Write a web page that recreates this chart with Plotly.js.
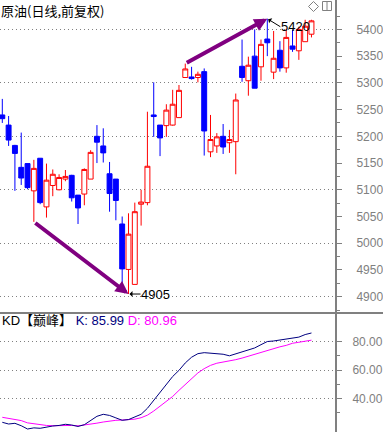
<!DOCTYPE html>
<html>
<head>
<meta charset="utf-8">
<script src="https://cdn.plot.ly/plotly-3.0.1.min.js"></script>
<style>
html,body{margin:0;padding:0;background:#fff;}
#chart{width:383px;height:432px;}
</style>
</head>
<body>
<div id="chart"></div>
<script>
// ---- data ----
const idx = [1,2,3,4,5,6,7,8,9,10,11,12,13,14,15,16,17,18,19,20,21,22,23,24,25,26,27,28,29,30,31,32,33,34,35,36,37,38,39,40,41,42,43,44,45,46,47,48,49,50];
const openP  = [5240,5221,5183,5142,5149,5098,5159,5068,5108,5100,5120,5127,5090,5092,5120,5200,5182,5130,5120,5036,4951,4923,5073,5076,5240,5221,5220,5221,5235,5310,5311,5310,5321,5171,5182,5200,5188,5190,5331,5304,5350,5330,5382,5320,5361,5328,5369,5360,5377,5391];
const highP  = [5270,5238,5184,5207,5149,5156,5159,5149,5138,5129,5137,5128,5090,5140,5174,5221,5215,5152,5120,5050,5056,5076,5100,5246,5301,5221,5260,5287,5296,5336,5330,5321,5327,5240,5206,5223,5212,5280,5381,5349,5400,5381,5420,5397,5378,5401,5399,5405,5418,5418];
const lowP   = [5225,5182,5098,5109,5101,5040,5073,5048,5088,5099,5116,5078,5036,5071,5120,5150,5151,5059,5043,4922,4905,4923,5033,5071,5199,5163,5199,5220,5235,5310,5306,5301,5164,5161,5169,5167,5169,5129,5302,5276,5290,5304,5350,5307,5321,5319,5358,5343,5377,5385];
const closeP = [5233,5193,5168,5122,5104,5140,5076,5118,5129,5123,5125,5085,5066,5138,5170,5189,5169,5093,5080,4952,5017,5059,5077,5144,5237,5197,5249,5260,5286,5326,5308,5316,5210,5194,5199,5180,5194,5268,5310,5333,5290,5372,5375,5346,5328,5385,5363,5400,5406,5416];
const kVals = [23.4,22.2,22.7,21.0,18.7,19.5,19.2,20.1,20.8,21.2,22.0,21.5,20.5,21.7,24.8,27.6,29.0,28.2,26.5,24.8,25.3,27.0,29.0,33.2,38.7,43.8,49.3,55.5,59.8,65.0,69.0,71.5,72.2,71.8,71.3,71.1,70.0,71.5,72.8,74.4,75.5,77.8,80.0,80.4,81.0,81.9,82.3,83.1,84.9,85.99];
const dVals = [26.9,26.2,25.4,24.6,23.0,22.3,21.5,21.2,21.0,21.2,21.5,21.2,20.9,21.4,22.0,22.8,23.6,24.4,24.8,25.0,25.3,25.6,26.6,28.4,31.3,34.6,37.6,41.5,45.8,50.0,54.2,58.0,61.0,63.3,64.8,65.5,66.2,67.3,68.4,69.7,71.3,72.5,73.8,75.3,76.3,77.3,78.8,79.5,80.3,80.96];
const priceTicks = [4900,4950,5000,5050,5100,5150,5200,5250,5300,5350,5400];
const priceMinor = [4875,4925,4975,5025,5075,5125,5175,5225,5275,5325,5375,5425];
const priceGrid = [4900,5000,5100,5200,5300,5400];
const kdTicks = [40,60,80];
const kdTickText = ['40.00','60.00','80.00'];
const kdMinor = [30,50,70];
const titleText = '原油(日线,前复权)';
const kdName = 'KD【巅峰】';
const kLast = '85.99', dLast = '80.96';
// arrows: [tailIndex, tailPrice, headIndex, headPrice]
const arrowDown = [6, 5040, 21, 4905];
const arrowUp = [30, 5336, 43, 5420];

// ---- layout helpers ----
const W = 383, H = 432, PW = 335;
const GRAY = '#808080';
const px = v => v / PW;           // pixel x -> paper x
const py = v => 1 - v / H;        // pixel y -> paper y
const split = py(313);
const xr = [0.635, 53.73];
const tickFont = {family: 'Liberation Sans, Arial, sans-serif', size: 12, color: GRAY};

const traces = [
  {
    type: 'candlestick', x: idx, open: openP, high: highP, low: lowP, close: closeP,
    xaxis: 'x', yaxis: 'y', hoverinfo: 'skip',
    increasing: {line: {color: '#ff0000', width: 1}, fillcolor: '#ffffff'},
    decreasing: {line: {color: '#0000ff', width: 1}, fillcolor: '#0000ff'},
    whiskerwidth: 0
  },
  {type: 'scatter', mode: 'lines', x: [], y: [], xaxis: 'x', yaxis: 'y3', hoverinfo: 'skip'},
  {type: 'scatter', mode: 'lines', x: idx, y: dVals, xaxis: 'x2', yaxis: 'y2',
   line: {color: '#ff00ff', width: 1}, hoverinfo: 'skip'},
  {type: 'scatter', mode: 'lines', x: idx, y: kVals, xaxis: 'x2', yaxis: 'y2',
   line: {color: '#000080', width: 1}, hoverinfo: 'skip'}
];

const layout = {
  width: W, height: H,
  margin: {l: 0, r: W - PW, t: 0, b: 0, pad: 0},
  paper_bgcolor: '#ffffff', plot_bgcolor: '#ffffff',
  showlegend: false,
  boxgap: 0.22, boxgroupgap: 0,
  xaxis: {domain: [0, 1], anchor: 'y', range: xr, visible: false, rangeslider: {visible: false}, fixedrange: true},
  xaxis2: {domain: [0, 1], anchor: 'y2', range: xr, visible: false, fixedrange: true},
  yaxis: {
    domain: [split, 1], anchor: 'x', side: 'right', range: [4869.5, 5455],
    showline: true, linecolor: GRAY, linewidth: 2, zeroline: false, showgrid: false,
    tickmode: 'array', tickvals: priceTicks, ticktext: priceTicks.map(String),
    ticks: 'outside', ticklen: 5, tickwidth: 1, tickcolor: GRAY,
    tickfont: tickFont, ticklabelstandoff: 12,
    minor: {tickmode: 'array', tickvals: priceMinor, ticks: 'outside', ticklen: 3, tickwidth: 1, tickcolor: GRAY, showgrid: false},
    fixedrange: true
  },
  yaxis3: {
    overlaying: 'y', anchor: 'x', side: 'right', range: [4869.5, 5455],
    tickmode: 'array', tickvals: priceGrid, showticklabels: false, ticks: '',
    showline: false, zeroline: false,
    showgrid: true, gridcolor: GRAY, gridwidth: 1, griddash: '1px,3px', fixedrange: true
  },
  yaxis2: {
    domain: [0, split], anchor: 'x2', side: 'right', range: [16.6, 100],
    showline: true, linecolor: GRAY, linewidth: 2, zeroline: false,
    tickmode: 'array', tickvals: kdTicks, ticktext: kdTickText,
    ticks: 'outside', ticklen: 5, tickwidth: 1, tickcolor: GRAY,
    tickfont: tickFont, ticklabelstandoff: 8,
    showgrid: true, gridcolor: GRAY, gridwidth: 1, griddash: '1px,3px',
    minor: {tickmode: 'array', tickvals: kdMinor, ticks: 'outside', ticklen: 3, tickwidth: 1, tickcolor: GRAY, showgrid: false},
    fixedrange: true
  },
  shapes: [
    {type: 'line', xref: 'paper', yref: 'paper', x0: 0, x1: W / PW, y0: split, y1: split,
     line: {color: GRAY, width: 2}, layer: 'above'},
    {type: 'path', xref: 'paper', yref: 'paper',
     path: `M ${px(313.5)},${py(1.5)} L ${px(318.5)},${py(6.5)} L ${px(313.5)},${py(11.5)} L ${px(308.5)},${py(6.5)} Z`,
     line: {color: GRAY, width: 1}, fillcolor: 'rgba(0,0,0,0)', layer: 'above'},
    {type: 'rect', xref: 'paper', yref: 'paper', x0: px(322.5), x1: px(331.5), y0: py(1.5), y1: py(10.5),
     line: {color: GRAY, width: 1}, fillcolor: 'rgba(0,0,0,0)', layer: 'above'},
    {type: 'line', xref: 'paper', yref: 'paper', x0: px(327), x1: px(327), y0: py(1.5), y1: py(10.5),
     line: {color: GRAY, width: 1}, layer: 'above'}
  ],
  annotations: [
    {xref: 'paper', yref: 'paper', x: 0, y: 1, xanchor: 'left', yanchor: 'top', showarrow: false, borderpad: 0,
     text: titleText, font: {family: 'Noto Sans CJK SC, sans-serif', size: 13, color: '#000000'}},
    {xref: 'paper', yref: 'paper', x: 0, y: py(320.5), xanchor: 'left', yanchor: 'middle', showarrow: false,
     text: kdName + ' <span style="color:#000080">K: ' + kLast + '</span> <span style="color:#ff00ff">D: ' + dLast + '</span>',
     font: {family: 'Liberation Sans, Noto Sans CJK SC, sans-serif', size: 13, color: '#000000'}},
    {xref: 'x', yref: 'y', axref: 'x', ayref: 'y',
     x: arrowDown[2], y: arrowDown[3], ax: arrowDown[0], ay: arrowDown[1],
     text: '', showarrow: true, arrowcolor: '#800080', arrowwidth: 4, arrowhead: 2, arrowsize: 0.65, standoff: 0, startstandoff: 0},
    {xref: 'x', yref: 'y', axref: 'x', ayref: 'y',
     x: arrowUp[2], y: arrowUp[3], ax: arrowUp[0], ay: arrowUp[1],
     text: '', showarrow: true, arrowcolor: '#800080', arrowwidth: 4, arrowhead: 2, arrowsize: 0.65, standoff: 0, startstandoff: 0},
    {xref: 'x', yref: 'y', x: 21, y: lowP[20], ax: 12, ay: 0, xanchor: 'left', yanchor: 'middle',
     text: String(lowP[20]), showarrow: true, arrowcolor: '#000000', arrowwidth: 1, arrowhead: 1, arrowsize: 1, standoff: 1,
     font: {family: 'Liberation Sans, Arial, sans-serif', size: 13, color: '#000000'}, borderpad: 0},
    {xref: 'x', yref: 'y', x: 43, y: highP[42], ax: 13, ay: 8, xanchor: 'left', yanchor: 'middle',
     text: String(highP[42]), showarrow: true, arrowcolor: '#000000', arrowwidth: 1, arrowhead: 1, arrowsize: 1, standoff: 1,
     font: {family: 'Liberation Sans, Arial, sans-serif', size: 13, color: '#000000'}, borderpad: 0}
  ]
};

Plotly.newPlot('chart', traces, layout, {displayModeBar: false, staticPlot: true});
</script>
</body>
</html>
